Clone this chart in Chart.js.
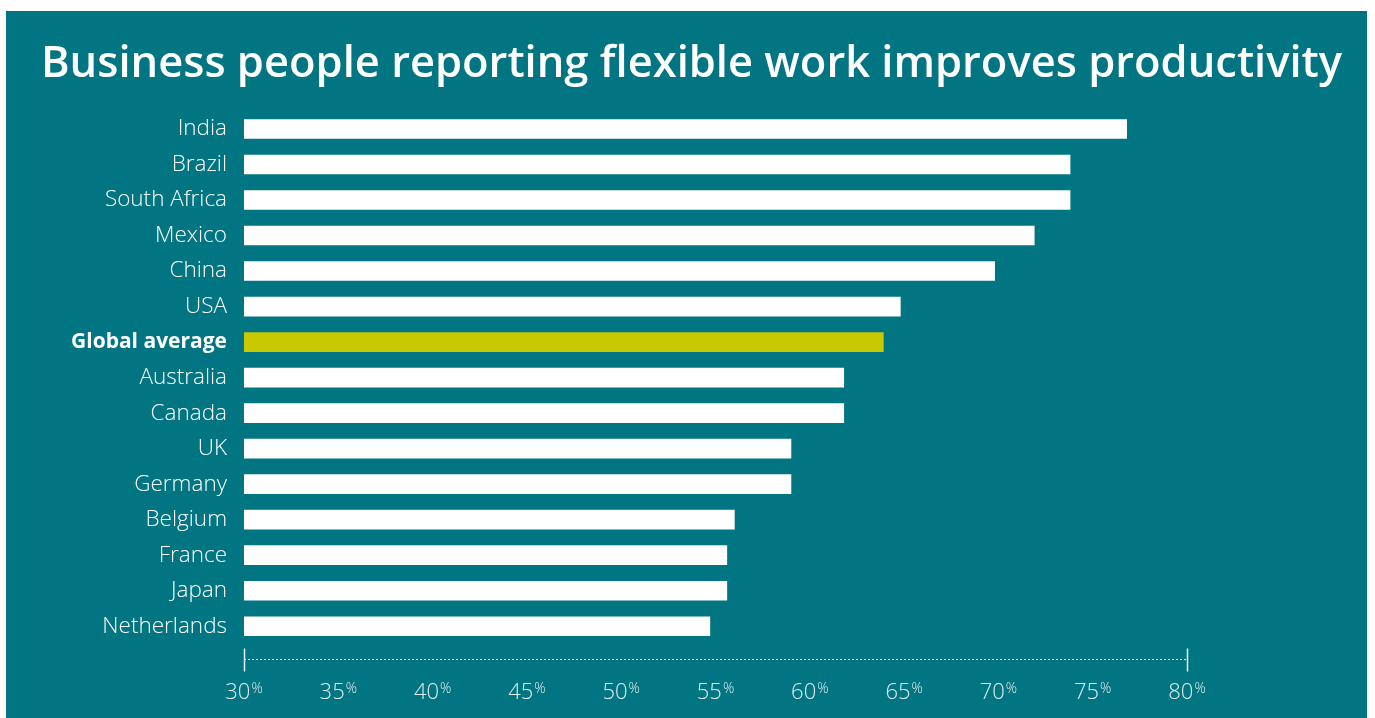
<!DOCTYPE html>
<html>
<head>
<meta charset="utf-8">
<script src="https://cdn.jsdelivr.net/npm/chart.js@4"></script>
<style>
body { margin: 0; background: #ffffff; }
#panel { position: absolute; left: 6px; top: 11px; width: 1361px; height: 707px; background: #017582; }
</style>
</head>
<body>
<div id="panel"><canvas id="flexChart" width="1361" height="707"></canvas></div>
<script>
const countries = ['India', 'Brazil', 'South Africa', 'Mexico', 'China', 'USA', 'Global average',
    'Australia', 'Canada', 'UK', 'Germany', 'Belgium', 'France', 'Japan', 'Netherlands']
const shares = [76.8, 73.8, 73.8, 71.9, 69.8, 64.8, 63.9, 61.8, 61.8, 59, 59, 56, 55.6, 55.6, 54.7]
const tickValues = [30, 35, 40, 45, 50, 55, 60, 65, 70, 75, 80]
const highlight = 'Global average'

const barColors = []
for (let c of countries) {
    barColors.push(c === highlight ? '#c8c900' : '#ffffff')
}

// bottom axis: dotted line, end ticks and "30%" labels with a raised percent sign
const percentAxis = {
    id: 'percentAxis',
    afterDraw(chart) {
        const ctx = chart.ctx
        const xs = chart.scales.x
        const lineY = chart.chartArea.bottom + 15.5
        const x0 = xs.getPixelForValue(tickValues[0])
        const x1 = xs.getPixelForValue(tickValues[tickValues.length - 1])
        ctx.save()
        ctx.strokeStyle = 'rgba(255,255,255,0.9)'
        ctx.lineWidth = 1
        ctx.setLineDash([2, 2])
        ctx.beginPath()
        ctx.moveTo(x0, lineY)
        ctx.lineTo(x1, lineY)
        ctx.stroke()
        ctx.setLineDash([])
        ctx.lineWidth = 1.5
        for (let x of [x0, x1]) {
            ctx.beginPath()
            ctx.moveTo(Math.round(x) + 0.5, lineY - 11)
            ctx.lineTo(Math.round(x) + 0.5, lineY + 12)
            ctx.stroke()
        }
        ctx.fillStyle = 'rgba(255,255,255,0.88)'
        ctx.textBaseline = 'alphabetic'
        ctx.textAlign = 'left'
        const numFont = '300 22px "Open Sans"'
        const pctFont = '300 14px "Open Sans"'
        for (let v of tickValues) {
            const px = xs.getPixelForValue(v)
            ctx.font = numFont
            const w1 = ctx.measureText(String(v)).width
            ctx.font = pctFont
            const w2 = ctx.measureText('%').width
            const start = px - (w1 + w2 + 1) / 2
            ctx.font = numFont
            ctx.fillText(String(v), start, lineY + 39)
            ctx.font = pctFont
            ctx.fillText('%', start + w1 + 1, lineY + 33)
        }
        ctx.restore()
    }
}

const flexData = {
    labels: countries,
    datasets: [{
        data: shares,
        backgroundColor: barColors,
        borderWidth: 0,
        barThickness: 19,
        yAxisID: 'y',
    }]
}

const flexConfig = {
    type: 'bar',
    data: flexData,
    plugins: [percentAxis],
    options: {
        indexAxis: 'y',
        responsive: false,
        animation: false,
        layout: { padding: { left: 10, right: 0, top: 0, bottom: 0 } },
        plugins: {
            legend: { display: false },
            tooltip: { enabled: false },
            title: {
                display: true,
                text: 'Business people reporting flexible work improves productivity',
                color: '#ffffff',
                font: { family: 'Open Sans', size: 43.5, weight: '600' },
                padding: { top: 28, bottom: 20 }
            }
        },
        scales: {
            x: {
                min: 30,
                max: 80,
                grid: { display: false },
                border: { display: false },
                ticks: { display: false, stepSize: 5 },
                afterFit: (scale) => { scale.height = 74 }
            },
            y: {
                grid: { display: false, drawTicks: false },
                border: { display: false },
                ticks: {
                    color: '#ffffff',
                    padding: 17,
                    font: (c) => ({
                        family: 'Open Sans',
                        size: countries[c.index] === highlight ? 21 : 22.5,
                        weight: countries[c.index] === highlight ? '700' : '300'
                    })
                },
                afterFit: (scale) => { scale.width = 228 }
            },
            // empty right margin so the title stays centred on the whole panel
            right: {
                type: 'linear',
                position: 'right',
                min: 0,
                max: 1,
                grid: { display: false, drawTicks: false },
                border: { display: false },
                ticks: { display: false },
                afterFit: (scale) => { scale.width = 180 }
            }
        }
    }
}

const flexChart = new Chart(
    document.getElementById('flexChart'),
    flexConfig
)
</script>
</body>
</html>
